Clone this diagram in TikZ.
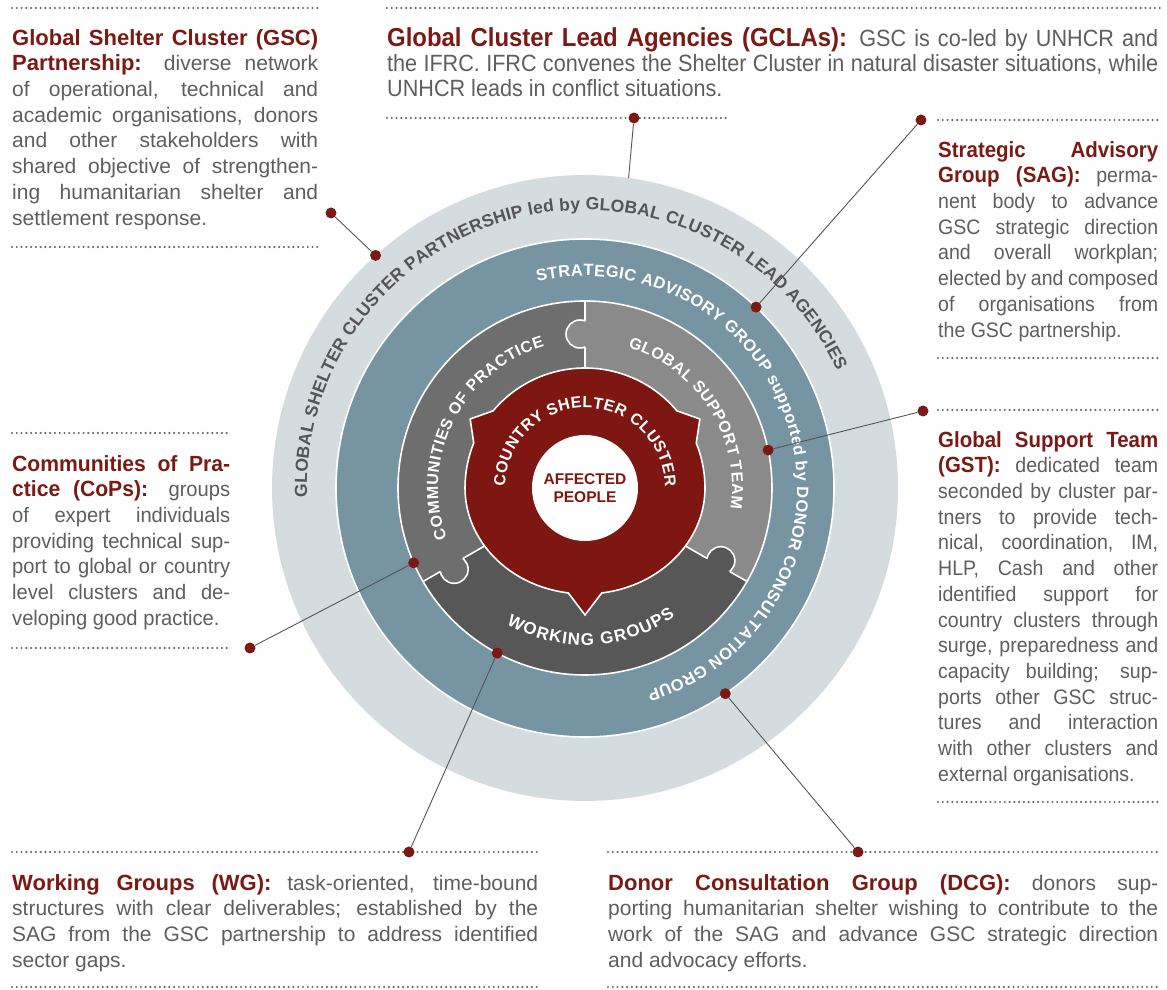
\documentclass[tikz,border=0pt]{standalone}
\usepackage{fontspec}
\setmainfont{Liberation Sans}
\newfontfamily\condfont[FakeStretch=0.93]{Liberation Sans}
\newfontfamily\copfont[FakeStretch=0.96]{Liberation Sans}
\newfontfamily\gclafont[FakeStretch=0.92]{Liberation Sans}
\usetikzlibrary{calc,decorations.text}

\definecolor{ringouter}{HTML}{D5DCE0}
\definecolor{ringblue}{HTML}{7794A3}
\definecolor{copgrey}{HTML}{6E6E6E}
\definecolor{gstgrey}{HTML}{8A8A8A}
\definecolor{wggrey}{HTML}{575757}
\definecolor{cscred}{HTML}{7E1711}
\definecolor{titlered}{HTML}{7B1A14}
\definecolor{bodygrey}{HTML}{5E5E5E}
\definecolor{ringtext}{HTML}{555555}
\definecolor{dotgrey}{HTML}{6A6A6A}

\hyphenpenalty=10000
\exhyphenpenalty=10000

\newcommand\hd[2][22]{{\fontsize{#1}{25.7}\selectfont\bfseries\color{titlered}#2}}
\newcommand\ringbold{\fontsize{17.5}{17.5}\selectfont\bfseries}
\newcommand\blueringfont{\fontsize{16.5}{16.5}\selectfont\bfseries}
\newcommand\puzzlefont{\fontsize{16}{16}\selectfont\bfseries}
\newcommand\wgfont{\fontsize{17}{17}\selectfont\bfseries}
\newcommand\cscfont{\fontsize{16}{16}\selectfont\bfseries}
\def\arctext[#1](#2:#3:#4)#5{\path[decorate,decoration={text along path,text align={fit to path},text color=#1,text={#5}}] ($(c)+(#2:#4)$) arc[start angle=#2,end angle=#3,radius=#4];}

\tikzset{
  block/.style={anchor=north west,inner sep=0pt,align=justify,text=bodygrey,font=\fontsize{21}{25.7}\selectfont},
  condblock/.style={block,font=\condfont\fontsize{21}{25.7}\selectfont},
  dotline/.style={dotgrey,line width=2.4pt,line cap=round,dash pattern=on 0pt off 4.77pt},
  bead/.style={circle,fill=titlered,inner sep=0pt,minimum size=11pt},
  link/.style={draw=ringtext,line width=0.9pt},
  seam/.style={white,line width=1.6pt}
}

\begin{document}
\begin{tikzpicture}[x=1pt,y=1pt]
\useasboundingbox (0,0) rectangle (1167,990);
\coordinate (c) at (585,502);

% rings
\fill[ringouter] (c) circle (313);
\filldraw[fill=ringblue,draw=white,line width=1.6pt] (c) circle (249);
\fill[gstgrey] (c) -- ($(c)+(-30:187)$) arc[start angle=-30,end angle=90,radius=187] -- cycle;
\fill[copgrey] (c) -- ($(c)+(90:187)$) arc[start angle=90,end angle=210,radius=187] -- cycle;
\fill[wggrey] (c) -- ($(c)+(210:187)$) arc[start angle=210,end angle=330,radius=187] -- cycle;

% puzzle knobs and seams
\foreach \a/\col in {90/gstgrey,210/copgrey,330/wggrey}{
  \fill[\col] ($(c)+(\a:154)+({\a+90}:5)$) circle (14);
  \begin{scope}
    \clip (c) -- ($(c)+(\a:200)$) arc[start angle=\a,end angle=\a+120,radius=200] -- cycle;
    \draw[seam] ($(c)+(\a:154)+({\a+90}:5)$) circle (14);
  \end{scope}
  \draw[seam] ($(c)+(\a:100)$) -- ($(c)+(\a:140.9)$);
  \draw[seam] ($(c)+(\a:167.1)$) -- ($(c)+(\a:187)$);
}
\draw[seam] (c) circle (187);

\filldraw[fill=cscred,draw=white,line width=1.6pt] ($(c)+(0:120)$) arc[start angle=0,end angle=22,radius=120]
  -- ($(c)+(31:134)$) -- ($(c)+(40:120)$) arc[start angle=40,end angle=140,radius=120]
  -- ($(c)+(149:134)$) -- ($(c)+(158:120)$) arc[start angle=158,end angle=180,radius=120]
  arc[start angle=180,end angle=262,x radius=120,y radius=106] -- ($(c)+(0,-127)$)
  -- ($(c)+(16.7,-105)$) arc[start angle=278,end angle=360,x radius=120,y radius=106] -- cycle;
\fill[white] (c) circle (53);
\node[font=\fontsize{15.5}{18}\selectfont\bfseries,text=cscred,align=center] (affected) at (c) {AFFECTED\\PEOPLE};

% texts round the rings
\arctext[ringtext](182:25:278){|\ringbold|GLOBAL SHELTER CLUSTER PARTNERSHIP led by GLOBAL CLUSTER LEAD AGENCIES}
\arctext[white](103:-73:212){|\blueringfont|STRATEGIC ADVISORY GROUP supported by DONOR CONSULTATION GROUP}
\arctext[white](200:106:147){|\puzzlefont|COMMUNITIES OF PRACTICE}
\arctext[white](73:-8:147){|\puzzlefont|GLOBAL SUPPORT TEAM}
\arctext[white](240:305:157){|\wgfont|WORKING GROUPS}
\arctext[white](179:1:80){|\cscfont|COUNTRY SHELTER CLUSTER}

% dotted rules
\draw[dotline] (12,982) -- (318,982);
\draw[dotline] (12,743) -- (318,743);
\draw[dotline] (387,982) -- (1160,982);
\draw[dotline] (387,872) -- (730,872);
\draw[dotline] (938,870) -- (1160,870);
\draw[dotline] (938,632) -- (1160,632);
\draw[dotline] (938,580) -- (1160,580);
\draw[dotline] (938,188) -- (1160,188);
\draw[dotline] (12,557) -- (230,557);
\draw[dotline] (12,342) -- (230,342);
\draw[dotline] (12,138) -- (538,138);
\draw[dotline] (12,3) -- (538,3);
\draw[dotline] (608,138) -- (1160,138);
\draw[dotline] (608,3) -- (1160,3);

% text blocks
\node[block,text width=306pt] (gsc) at (12,961) {\hd{Global Shelter Cluster (GSC)\linebreak Partnership:} diverse network\linebreak of operational, technical and\linebreak academic organisations, donors\linebreak and other stakeholders with\linebreak shared objective of strengthen-\linebreak ing humanitarian shelter and\linebreak settlement response.};
\node[block,text width=771pt,font=\gclafont\fontsize{23.5}{25}\selectfont] (gcla) at (387,963) {\hd[26]{Global Cluster Lead Agencies (GCLAs):} GSC is co-led by UNHCR and\linebreak the IFRC. IFRC convenes the Shelter Cluster in natural disaster situations, while\linebreak UNHCR leads in conflict situations.};
\node[condblock,text width=220pt] (sag) at (938,849) {\hd{Strategic Advisory\linebreak Group (SAG):} perma-\linebreak nent body to advance\linebreak GSC strategic direction\linebreak and overall workplan;\linebreak elected by and composed\linebreak of organisations from\linebreak the GSC partnership.};
\node[condblock,text width=220pt] (gst) at (938,559) {\hd{Global Support Team\linebreak (GST):} dedicated team\linebreak seconded by cluster par-\linebreak tners to provide tech-\linebreak nical, coordination, IM,\linebreak HLP, Cash and other\linebreak identified support for\linebreak country clusters through\linebreak surge, preparedness and\linebreak capacity building; sup-\linebreak ports other GSC struc-\linebreak tures and interaction\linebreak with other clusters and\linebreak external organisations.};
\node[block,text width=218pt,font=\copfont\fontsize{21}{25.7}\selectfont] (cop) at (12,535) {\hd{Communities of Pra-\linebreak ctice (CoPs):} groups\linebreak of expert individuals\linebreak providing technical sup-\linebreak port to global or country\linebreak level clusters and de-\linebreak veloping good practice.};
\node[block,text width=526pt] (wg) at (12,116) {\hd{Working Groups (WG):} task-oriented, time-bound\linebreak structures with clear deliverables; established by the\linebreak SAG from the GSC partnership to address identified\linebreak sector gaps.};
\node[block,text width=550pt] (dcg) at (608,116) {\hd{Donor Consultation Group (DCG):} donors sup-\linebreak porting humanitarian shelter wishing to contribute to the\linebreak work of the SAG and advance GSC strategic direction\linebreak and advocacy efforts.};

% pins and leaders
\node[bead] (gsc-out) at (331,777) {};
\node[bead] (gsc-in) at ($(c)+(132:313)$) {};
\node[bead] (gcla-out) at (634,872) {};
\coordinate (gcla-in) at ($(c)+(82:313)$);
\node[bead] (sag-out) at (921,870) {};
\node[bead] (sag-in) at ($(c)+(46.6:249)$) {};
\node[bead] (gst-out) at (923,579) {};
\node[bead] (gst-in) at ($(c)+(11.7:187)$) {};
\node[bead] (cop-out) at (250,342) {};
\node[bead] (cop-in) at ($(c)+(203.6:187)$) {};
\node[bead] (wg-out) at (409,138) {};
\node[bead] (wg-in) at ($(c)+(242:187)$) {};
\node[bead] (dcg-out) at (858,138) {};
\node[bead] (dcg-in) at ($(c)+(-55.7:249)$) {};
\foreach \p in {gsc,sag,gst,cop,wg,dcg}
  \draw[link] (\p-out) -- (\p-in);
\draw[link] (gcla-out) -- (gcla-in);
\end{tikzpicture}
\end{document}
